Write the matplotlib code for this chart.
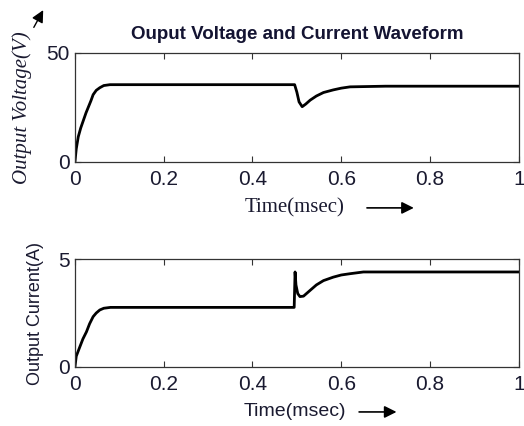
import numpy as np
import matplotlib.pyplot as plt

# voltage waveform
t_v = [0, 0.003, 0.0075, 0.013, 0.019, 0.025, 0.03, 0.036, 0.041, 0.048, 0.056, 0.065, 0.079,
       0.495, 0.5, 0.505, 0.512, 0.52, 0.53, 0.544, 0.56, 0.582, 0.6, 0.62, 0.7, 1.0]
volt = [0, 6, 11.5, 15.5, 19, 22.5, 25, 28, 30.8, 32.8, 34, 35, 35.4,
        35.4, 32, 27.5, 25.3, 26.5, 28.3, 30.2, 31.8, 33, 33.8, 34.4, 34.7, 34.7]

# current waveform
t_i = [0, 0.003, 0.011, 0.018, 0.026, 0.033, 0.041, 0.048, 0.056, 0.065, 0.08,
       0.494, 0.496, 0.498, 0.502, 0.507, 0.515, 0.53, 0.544, 0.56, 0.582, 0.6, 0.62, 0.65, 1.0]
curr = [0, 0.5, 0.93, 1.3, 1.63, 2.0, 2.33, 2.5, 2.64, 2.72, 2.76,
        2.76, 4.4, 3.8, 3.4, 3.26, 3.28, 3.55, 3.8, 4.0, 4.16, 4.26, 4.32, 4.4, 4.4]

xticks = [0, 0.2, 0.4, 0.6, 0.8, 1]
xticklabels = ['0', '0.2', '0.4', '0.6', '0.8', '1']

tick_col = '#1a1a30'

fig = plt.figure(figsize=(5.24, 4.26), dpi=100)
ax1 = fig.add_axes([0.143, 0.620, 0.847, 0.256])
ax2 = fig.add_axes([0.143, 0.1385, 0.847, 0.2535])

def style(ax, ymax):
    ax.set_xlim(0, 1)
    ax.set_ylim(0, ymax)
    ax.set_xticks(xticks)
    ax.set_xticklabels(xticklabels)
    ax.set_yticks([0, ymax])
    ax.tick_params(direction='in', top=True, right=True, length=4, width=0.8,
                   labelsize=15, colors='#333333', labelcolor=tick_col)
    ax.tick_params(axis='x', pad=6)
    ax.tick_params(axis='y', pad=4)
    for s in ax.spines.values():
        s.set_color('#333333')
        s.set_linewidth(0.9)
    for lab in ax.get_xticklabels() + ax.get_yticklabels():
        lab.set_family('Liberation Sans')

ax1.plot(t_v, volt, color='black', lw=2.0)
style(ax1, 50)
ax1.set_title('Ouput Voltage and Current Waveform', fontsize=13.5, fontweight='bold',
              color='#141432', family='Liberation Sans', pad=10)

ax2.plot(t_i, curr, color='black', lw=2.0)
style(ax2, 5)

# y labels
fig.text(0.042, 0.748, 'Output Voltage(V)', rotation=90, ha='center', va='center',
         fontsize=15, style='italic', family='Liberation Serif', color='#1a1a30')
ax1.annotate('', xy=(0.085, 0.982), xytext=(0.062, 0.93), xycoords='figure fraction',
             arrowprops=dict(arrowstyle='-|>', color='black', lw=1.0,
                             mutation_scale=18))
fig.text(0.067, 0.265, 'Output Current(A)', rotation=90, ha='center', va='center',
         fontsize=13, family='Liberation Sans', color='#1a1a30')

# x labels with arrows
fig.text(0.563, 0.512, 'Time(msec)', ha='center', va='center', fontsize=15,
         family='Liberation Serif', color='#1a1a30')
ax1.annotate('', xy=(0.795, 0.512), xytext=(0.695, 0.512), xycoords='figure fraction',
             arrowprops=dict(arrowstyle='-|>', color='black', lw=1.2, mutation_scale=18))
fig.text(0.563, 0.035, 'Time(msec)', ha='center', va='center', fontsize=14,
         family='Liberation Sans', color='#1a1a30')
ax2.annotate('', xy=(0.762, 0.033), xytext=(0.68, 0.033), xycoords='figure fraction',
             arrowprops=dict(arrowstyle='-|>', color='black', lw=1.2, mutation_scale=18))

fig.savefig('out.png', dpi=100)
